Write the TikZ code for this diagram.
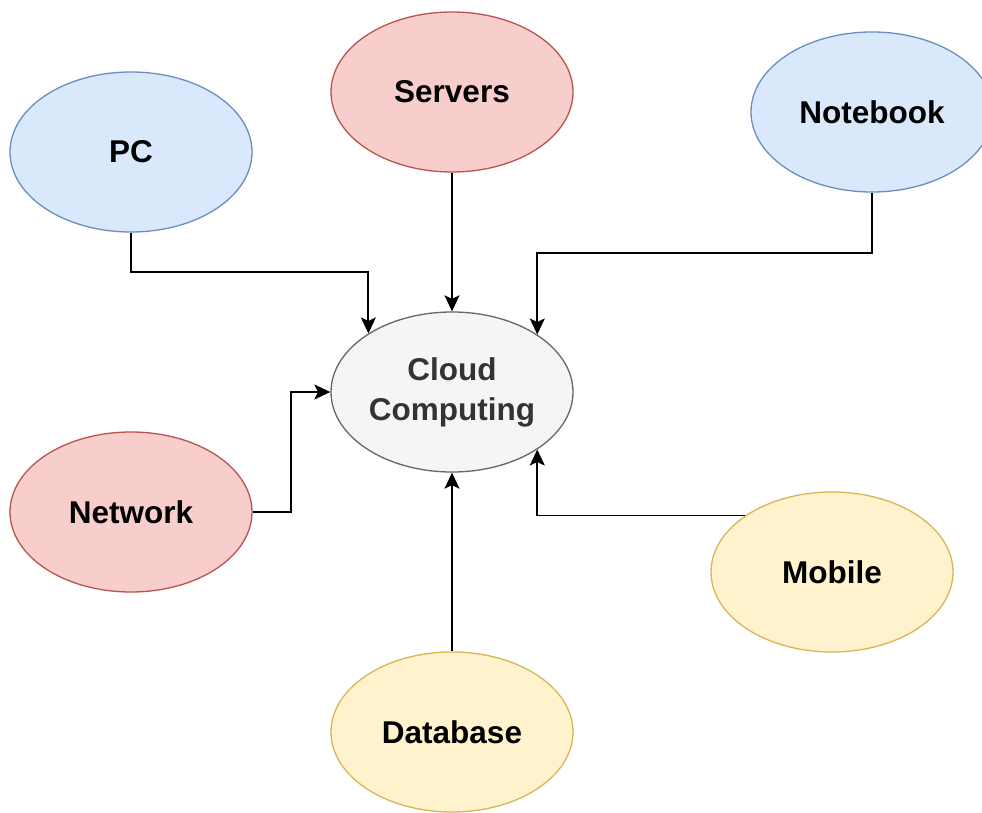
\documentclass[tikz,border=0pt]{standalone}
\usepackage{fontspec}
\setmainfont{Liberation Sans}
\usetikzlibrary{shapes.geometric,arrows.meta}
\definecolor{bluefill}{HTML}{DAE8FC}
\definecolor{bluedraw}{HTML}{6C8EBF}
\definecolor{redfill}{HTML}{F8CECC}
\definecolor{reddraw}{HTML}{B85450}
\definecolor{yelfill}{HTML}{FFF2CC}
\definecolor{yeldraw}{HTML}{D6B656}
\definecolor{grayfill}{HTML}{F5F5F5}
\definecolor{graydraw}{HTML}{666666}
\definecolor{graytext}{HTML}{333333}
\tikzset{
  oval/.style={ellipse, minimum width=242pt, minimum height=160pt, inner sep=0pt,
    line width=1.3pt, align=center,
    font=\fontsize{31.5}{40}\selectfont\bfseries},
  bluenode/.style={oval, draw=bluedraw, fill=bluefill, text=black},
  rednode/.style={oval, draw=reddraw, fill=redfill, text=black},
  yelnode/.style={oval, draw=yeldraw, fill=yelfill, text=black},
  graynode/.style={oval, draw=graydraw, fill=grayfill, text=graytext},
  arr/.style={line width=1.8pt, black, -{Stealth[length=16pt,width=15pt,inset=3.5pt]}}
}
\begin{document}
\begin{tikzpicture}[x=1pt,y=-1pt]
\useasboundingbox (0,0) rectangle (982,813);
\fill[white] (0,0) rectangle (982,813);
\begin{scope}
\clip (0,0) rectangle (982,813);
\node[graynode] (cloud) at (452,392) {Cloud\\Computing};
\node[bluenode] (pc) at (131,152) {PC};
\node[rednode] (servers) at (452,92) {Servers};
\node[bluenode] (notebook) at (872,112) {Notebook};
\node[rednode] (network) at (131,512) {Network};
\node[yelnode] (mobile) at (832,572) {Mobile};
\node[yelnode] (database) at (452,732) {Database};
\end{scope}
\draw[arr] (pc.south) -- ++(0,39) -| (cloud.145.5);
\draw[arr] (servers.south) -- (cloud.north);
\draw[arr] (notebook.south) -- ++(0,60) -| (cloud.34);
\draw[arr] (network.east) -- ++(38,0) |- (cloud.west);
\draw[arr] (database.north) -- (cloud.south);
\draw[arr] (mobile.147) -| (cloud.-34);
\end{tikzpicture}
\end{document}
